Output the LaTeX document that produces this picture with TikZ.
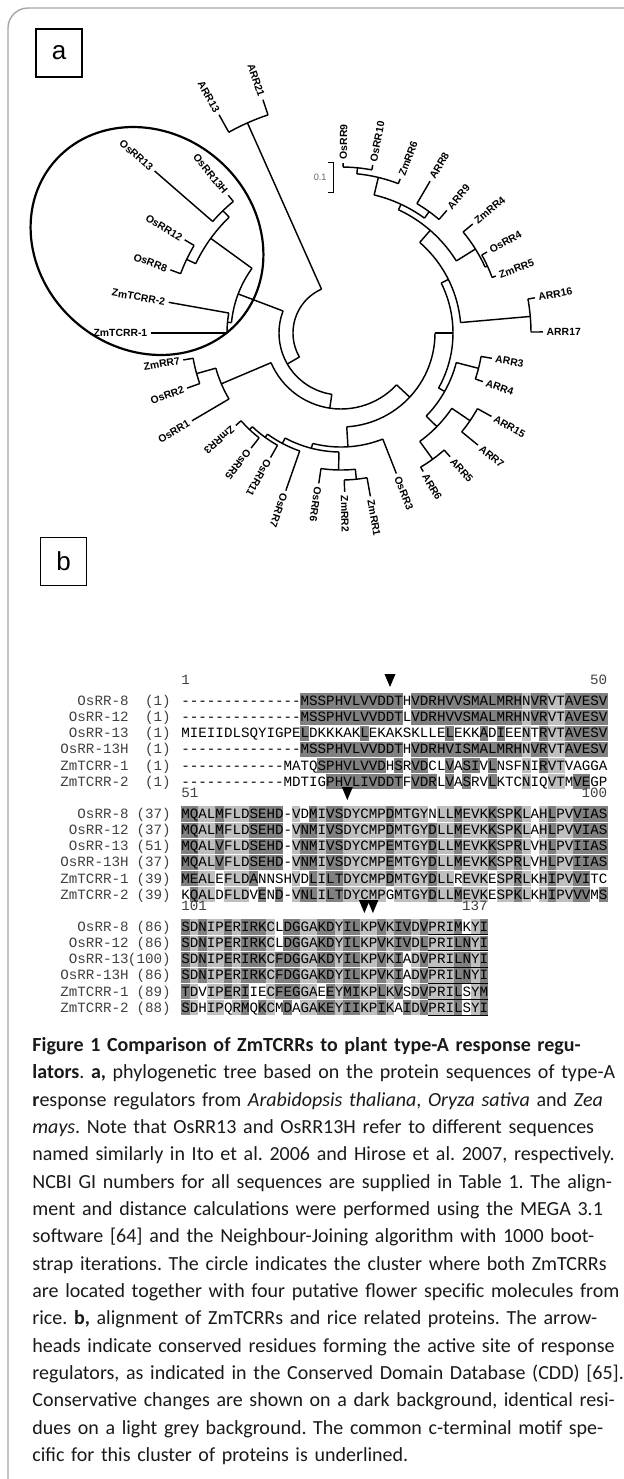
\documentclass[tikz,border=0pt]{standalone}
\usepackage{fontspec}
\setmainfont{Carlito}
\setmonofont{Liberation Mono}
\newfontfamily\arialfont{Liberation Sans}
\usetikzlibrary{calc}

\newlength{\capw}
\setlength{\capw}{292pt}

% --- tree helpers (angle clockwise, radius in px) ---
\newcommand{\inode}[5]{%
  \draw[branch] ($(ctr)+(#1:#2)$) -- ($(ctr)+(#1:#3)$);
  \draw[branch, shift={(ctr)}] plot[domain=#4:#5, samples=30] (\x:#3);}
\newcommand{\leafout}[5]{%
  \draw[branch] ($(ctr)+(#1:#2)$) -- ($(ctr)+(#1:#3)$)
    node[leaf, anchor=west, rotate={0-(#1)}] (#4) {#5};}
\newcommand{\leafin}[5]{%
  \draw[branch] ($(ctr)+(#1:#2)$) -- ($(ctr)+(#1:#3)$)
    node[leaf, anchor=east, rotate={180-(#1)}] (#4) {#5};}

% --- alignment helpers ---
\newcommand{\rowy}[2]{(701+113*#1+16.15*#2)}
\newcommand{\cell}[5]{%
  \fill[#5] ({181+(#3-1)*8.53},{\rowy{#1}{#2}-7.6}) rectangle ({181+#4*8.53},{\rowy{#1}{#2}+7.6});}

\begin{document}
\begin{tikzpicture}[
    x=0.5pt, y=-0.5pt,
    % --- BASE STYLES ---
    frame/.style={draw=black!35, line width=0.7pt, rounded corners=10pt},
    panel/.style={draw, line width=0.6pt, minimum width=23pt, minimum height=24pt, inner sep=0pt, font=\arialfont\fontsize{13}{13}\selectfont},
    branch/.style={draw=black, line width=0.72pt},
    cluster/.style={draw=black, line width=1.1pt},
    leaf/.style={font=\arialfont\bfseries\fontsize{5.2}{6}\selectfont, inner xsep=1.5pt, inner ysep=0.2pt, text height=3.8pt, text depth=0pt},
    scalelbl/.style={font=\arialfont\fontsize{4.6}{5}\selectfont, text=black!60, inner sep=0pt},
    % --- ALIGNMENT ---
    dark/.style={fill=black!50},
    light/.style={fill=black!25},
    seqtxt/.style={font=\ttfamily\fontsize{7.1}{8}\selectfont, inner sep=0pt, text height=4.6pt, text depth=0.6pt},
    seqname/.style={seqtxt, text=black!75},
    arrowmark/.style={fill=black},
    motif/.style={draw=black, line width=0.5pt},
    % --- CAPTION ---
    caption/.style={font=\fontsize{10}{13.67}\selectfont\frenchspacing, text=black!90, text width=\capw, align=left, inner sep=0pt}
]
\useasboundingbox (0,0) rectangle (624,1479);

% ==========================================
% FRAME AND PANEL LETTERS
% ==========================================
\draw[frame] (624,8) -- (8,8) -- (8,1479);
\node[panel] (pa) at (59,53) {a};
\node[panel] (pb) at (63.5,561.5) {b};

% ==========================================
% PANEL A: CIRCULAR TREE
% ==========================================
\coordinate (ctr) at (341,333);

% cluster circle
\draw[cluster, rotate around={-40:(147,241)}] (147,241) ellipse [x radius=122, y radius=108];

% scale bar
\draw[branch, line width=0.5pt] (328,162) -- (333,162) -- (333,192) -- (328,192);
\node[scalelbl, anchor=east] (scale) at (327,177) {0.1};

% root and backbone
\draw[branch, shift={(ctr)}] plot[domain=150:246, samples=40] (\x:48);
\inode{246}{48}{230}{240.8}{251.5}
\inode{150}{48}{62}{98.5}{200.8}
\inode{98.5}{62}{76}{43}{157}
\inode{43}{76}{94}{0}{86.5}
\inode{0}{94}{112}{-26.5}{29.4}

% upper right clade
\inode{-26.5}{112}{120}{-49}{-5}
\inode{-5}{120}{190}{-10.3}{-0.3}
\inode{-49}{120}{136}{-65}{-32}
\inode{-65}{136}{142}{-76.5}{-54}
\inode{-76.5}{142}{160}{-84.3}{-69}
\inode{-84.3}{160}{166}{-89.3}{-79.3}
\inode{-54}{142}{150}{-59.6}{-49.2}
\inode{-32}{136}{158.5}{-39.6}{-24.6}
\inode{-24.6}{158.5}{161}{-29}{-20.2}

% lower right clade
\inode{29.4}{112}{119}{14.4}{44.3}
\inode{14.4}{119}{142}{9.5}{18.9}
\inode{44.3}{119}{134}{34.2}{54}
\inode{34.2}{134}{156}{29}{39.3}
\inode{54}{134}{156}{48.6}{59.3}

% bottom clade
\inode{86.5}{94}{114}{68.5}{104.4}
\inode{104.4}{114}{119}{91}{118}
\inode{91}{119}{137}{84}{98.4}
\inode{84}{137}{147}{79.8}{88.7}
\inode{118}{119}{125}{109.3}{126}
\inode{126}{125}{129}{119.5}{133.4}
\inode{133.4}{129}{133}{128}{138.7}

% left clades
\inode{157}{76}{130}{149.5}{164.3}
\inode{164.3}{130}{150}{160.3}{170.3}
\inode{200.8}{62}{110}{185.4}{216}
\inode{185.4}{110}{114}{180}{190.1}
\inode{216}{110}{161}{205.5}{226}
\inode{205.5}{161}{171}{200.3}{210.8}
\inode{226}{161}{170}{221}{230.7}

% leaves
\leafin{240.8}{230}{250}{arr13}{ARR13}
\leafin{251.5}{230}{246}{arr21}{ARR21}
\leafout{-89.3}{166}{170}{osrr9}{OsRR9}
\leafout{-79.3}{166}{171}{osrr10}{OsRR10}
\leafout{-69}{160}{165}{zmrr6}{ZmRR6}
\leafout{-59.6}{150}{176}{arr8}{ARR8}
\leafout{-49.2}{150}{162}{arr9}{ARR9}
\leafout{-39.6}{158.5}{171}{zmrr4}{ZmRR4}
\leafout{-29}{161}{167}{osrr4}{OsRR4}
\leafout{-20.2}{161}{165}{zmrr5}{ZmRR5}
\leafout{-10.3}{190}{197}{arr16}{ARR16}
\leafout{-0.3}{190}{202}{arr17}{ARR17}
\leafout{9.5}{142}{153}{arr3}{ARR3}
\leafout{18.9}{142}{150}{arr4}{ARR4}
\leafout{29}{156}{172}{arr15}{ARR15}
\leafout{39.3}{156}{177}{arr7}{ARR7}
\leafout{48.6}{156}{165}{arr5}{ARR5}
\leafout{59.3}{156}{161}{arr6}{ARR6}
\leafout{68.5}{114}{151}{osrr3}{OsRR3}
\leafout{79.8}{147}{166}{zmrr1}{ZmRR1}
\leafout{88.7}{147}{159}{zmrr2}{ZmRR2}
\leafout{98.4}{137}{152}{osrr6}{OsRR6}
\leafout{109.3}{125}{167}{osrr7}{OsRR7}
\leafout{119.5}{129}{143}{osrr11}{OsRR11}
\leafout{128}{133}{146}{osrr5}{OsRR5}
\leafout{138.7}{133}{140}{zmrr3}{ZmRR3}
\leafin{149.5}{130}{173}{osrr1}{OsRR1}
\leafin{160.3}{150}{163.5}{osrr2}{OsRR2}
\leafin{170.3}{150}{160}{zmrr7}{ZmRR7}
\leafin{180}{114}{190}{zmtcrr1}{ZmTCRR-1}
\leafin{190.1}{114}{175}{zmtcrr2}{ZmTCRR-2}
\leafin{200.3}{171}{182}{osrr8}{OsRR8}
\leafin{210.8}{171}{182}{osrr12}{OsRR12}
\leafin{221}{170}{247}{osrr13}{OsRR13}
\leafin{230.7}{170}{178}{osrr13h}{OsRR13H}

% ==========================================
% PANEL B: ALIGNMENT
% ==========================================
% identical columns (light)
\foreach \r in {0,...,5}{
  \foreach \cA/\cB in {41/41,44/45} {\cell{0}{\r}{\cA}{\cB}{light}}
  \foreach \cA/\cB in {3/4,6/8,14/14,17/17,20/24,26/29,31/32,34/36,38/39,41/41,43/43,45/46} {\cell{1}{\r}{\cA}{\cB}{light}}
  \foreach \cA/\cB in {2/2,4/5,7/7,11/11,15/16,19/19,22/23,25/25,28/28,30/32,35/35} {\cell{2}{\r}{\cA}{\cB}{light}}
}
% conserved residues (dark), block 1
\foreach \r in {0,1,3}{\foreach \cA/\cB in {15/26,28/40,42/43,46/50} {\cell{0}{\r}{\cA}{\cB}{dark}}}
\foreach \cA/\cB in {15/15,22/22,32/32,36/36,38/38,43/43,46/50} {\cell{0}{2}{\cA}{\cB}{dark}}
\foreach \cA/\cB in {17/24,26/26,28/29,32/32,34/35,37/37,43/43} {\cell{0}{4}{\cA}{\cB}{dark}}
\foreach \cA/\cB in {18/26,28/30,32/32,34/34,37/37,47/48} {\cell{0}{5}{\cA}{\cB}{dark}}
% block 2
\foreach \cA/\cB in {1/2,5/5,9/12,16/16,18/19,25/25,33/33,37/37,40/40,44/44,47/50} {\cell{1}{0}{\cA}{\cB}{dark}}
\foreach \r in {1,2,3}{\foreach \cA/\cB in {1/2,5/5,9/12,15/16,18/19,25/25,30/30,33/33,37/37,40/40,44/44,47/50} {\cell{1}{\r}{\cA}{\cB}{dark}}}
\foreach \cA/\cB in {1/2,9/9,16/16,18/19,25/25,30/30,40/40,44/44,47/48} {\cell{1}{4}{\cA}{\cB}{dark}}
\foreach \cA/\cB in {2/2,10/10,12/12,15/16,18/19,30/30,33/33,40/40,44/44,47/48,50/50} {\cell{1}{5}{\cA}{\cB}{dark}}
% block 3
\foreach \cA/\cB in {1/1,3/3,6/6,8/10,13/14,17/18,20/21,24/24,26/27,29/29,33/33,36/36} {\cell{2}{0}{\cA}{\cB}{dark}}
\foreach \cA/\cB in {1/1,3/3,6/6,8/10,13/14,17/18,20/21,24/24,26/27,29/29,33/34,36/36} {\cell{2}{1}{\cA}{\cB}{dark}}
\foreach \r in {2,3}{\foreach \cA/\cB in {1/1,3/3,6/6,8/10,12/14,17/18,20/21,24/24,26/26,29/29,33/34,36/36} {\cell{2}{\r}{\cA}{\cB}{dark}}}
\foreach \cA/\cB in {1/1,6/6,8/8,12/14,18/18,20/21,24/24,26/26,29/29,33/33,36/36} {\cell{2}{4}{\cA}{\cB}{dark}}
\foreach \cA/\cB in {1/1,8/8,10/10,13/13,17/18,20/21,24/24,27/27,29/29,33/33,36/36} {\cell{2}{5}{\cA}{\cB}{dark}}

% sequence names and start positions
\foreach \b in {0,1,2}{
  \foreach \r/\nm in {0/OsRR-8,1/OsRR-12,2/OsRR-13,3/OsRR-13H,4/ZmTCRR-1,5/ZmTCRR-2}
    \node[seqname, anchor=base east] (n\b\r) at (129,{\rowy{\b}{\r}+4.5}) {\nm};
}
\foreach \b/\r/\num in {0/0/1,0/1/1,0/2/1,0/3/1,0/4/1,0/5/1,
                        1/0/37,1/1/37,1/2/51,1/3/37,1/4/39,1/5/39,
                        2/0/86,2/1/86,2/2/100,2/3/86,2/4/89,2/5/88}
  \node[seqname, anchor=base east] (p\b\r) at (171,{\rowy{\b}{\r}+4.5}) {(\num)};

% sequences
\foreach \b/\r/\s in {
  0/0/--------------MSSPHVLVVDDTHVDRHVVSMALMRHNVRVTAVESV,
  0/1/--------------MSSPHVLVVDDTLVDRHVVSMALMRHNVRVTAVESV,
  0/2/MIEIIDLSQYIGPELDKKKAKLEKAKSKLLELEKKADIEENTRVTAVESV,
  0/3/--------------MSSPHVLVVDDTHVDRHVISMALMRHNVRVTAVESV,
  0/4/------------MATQSPHVLVVDHSRVDCLVASIVLNSFNIRVTVAGGA,
  0/5/------------MDTIGPHVLIVDDTFVDRLVASRVLKTCNIQVTMVEGP,
  1/0/MQALMFLDSEHD-VDMIVSDYCMPDMTGYNLLMEVKKSPKLAHLPVVIAS,
  1/1/MQALMFLDSEHD-VNMIVSDYCMPDMTGYDLLMEVKKSPKLAHLPVVIAS,
  1/2/MQALVFLDSEHD-VNMIVSDYCMPEMTGYDLLMEVKKSPRLVHLPVIIAS,
  1/3/MQALVFLDSEHD-VNMIVSDYCMPEMTGYDLLMEVKKSPRLVHLPVIIAS,
  1/4/MEALEFLDANNSHVDLILTDYCMPDMTGYDLLREVKESPRLKHIPVVITC,
  1/5/KQALDFLDVEND-VNLILTDYCMPGMTGYDLLMEVKESPKLKHIPVVVMS,
  2/0/SDNIPERIRKCLDGGAKDYILKPVKIVDVPRIMKYI,
  2/1/SDNIPERIRKCLDGGAKDYILKPVKIVDLPRILNYI,
  2/2/SDNIPERIRKCFDGGAKDYILKPVKIADVPRILNYI,
  2/3/SDNIPERIRKCFDGGAKDYILKPVKIADVPRILNYI,
  2/4/TDVIPERIIECFEGGAEEYMIKPLKVSDVPRILSYM,
  2/5/SDHIPQRMQKCMDAGAKEYIIKPIKAIDVPRILSYI}
  \node[seqtxt, anchor=base west] (s\b\r) at (181,{\rowy{\b}{\r}+4.5}) {\s};

% common c-terminal motif
\foreach \r in {0,...,5}
  \draw[motif] ({181+29*8.53},{\rowy{2}{\r}+7.8}) -- ({181+36*8.53},{\rowy{2}{\r}+7.8});

% position numbers
\node[seqname, anchor=base west] (pos1) at (181,{\rowy{0}{0}-16.5}) {1};
\node[seqname, anchor=base east] (pos50) at (607.5,{\rowy{0}{0}-16.5}) {50};
\node[seqname, anchor=base west] (pos51) at (181,{\rowy{1}{0}-16.5}) {51};
\node[seqname, anchor=base east] (pos100) at (607.5,{\rowy{1}{0}-16.5}) {100};
\node[seqname, anchor=base west] (pos101) at (181,{\rowy{2}{0}-16.5}) {101};
\node[seqname, anchor=base east] (pos137) at ({181+36*8.53},{\rowy{2}{0}-16.5}) {137};

% active site arrowheads
\foreach \b/\c in {0/25,1/20,2/22,2/23}
  \fill[arrowmark] ({181+(\c-0.5)*8.53-5.5},{\rowy{\b}{0}-27}) -- ({181+(\c-0.5)*8.53+5.5},{\rowy{\b}{0}-27})
    -- ({181+(\c-0.5)*8.53},{\rowy{\b}{0}-14}) -- cycle;

% ==========================================
% CAPTION
% ==========================================
\node[caption, anchor=north west] (cap) at (32,1037) {%
\makebox[\capw][s]{\textbf{Figure 1 Comparison of ZmTCRRs to plant type-A response regu-}}\\
\makebox[\capw][s]{\textbf{lators}. \textbf{a,} phylogenetic tree based on the protein sequences of type-A}\\
\makebox[\capw][s]{\textbf{r}esponse regulators from \textit{Arabidopsis thaliana}, \textit{Oryza sativa} and \textit{Zea}}\\
\makebox[\capw][s]{\textit{mays}. Note that OsRR13 and OsRR13H refer to different sequences}\\
\makebox[\capw][s]{named similarly in Ito et al. 2006 and Hirose et al. 2007, respectively.}\\
\makebox[\capw][s]{NCBI GI numbers for all sequences are supplied in Table 1. The align-}\\
\makebox[\capw][s]{ment and distance calculations were performed using the MEGA 3.1}\\
\makebox[\capw][s]{software [64] and the Neighbour-Joining algorithm with 1000 boot-}\\
\makebox[\capw][s]{strap iterations. The circle indicates the cluster where both ZmTCRRs}\\
\makebox[\capw][s]{are located together with four putative flower specific molecules from}\\
\makebox[\capw][s]{rice. \textbf{b,} alignment of ZmTCRRs and rice related proteins. The arrow-}\\
\makebox[\capw][s]{heads indicate conserved residues forming the active site of response}\\
\makebox[\capw][s]{regulators, as indicated in the Conserved Domain Database (CDD) [65].}\\
\makebox[\capw][s]{Conservative changes are shown on a dark background, identical resi-}\\
\makebox[\capw][s]{dues on a light grey background. The common c-terminal motif spe-}\\
cific for this cluster of proteins is underlined.};

\end{tikzpicture}
\end{document}
